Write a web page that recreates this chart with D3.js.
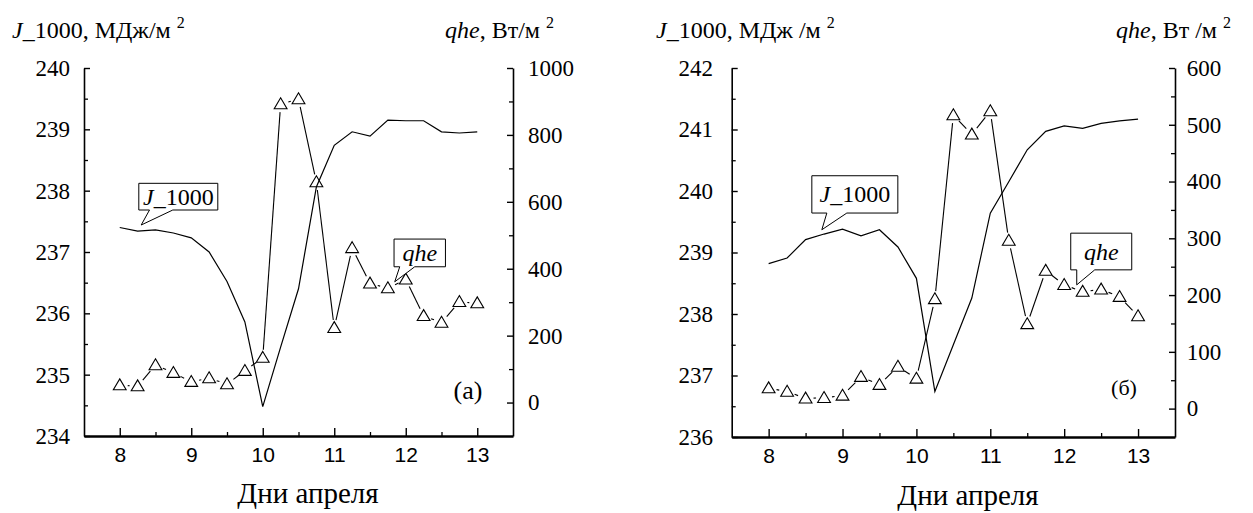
<!DOCTYPE html>
<html><head><meta charset="utf-8">
<script src="https://cdn.jsdelivr.net/npm/d3@7"></script>
<style>body{margin:0;background:#fff}svg{display:block}</style>
</head><body>
<svg id="c" width="1253" height="513"></svg>
<script>
// ---------------- data ----------------
const days = [8, 8.25, 8.5, 8.75, 9, 9.25, 9.5, 9.75, 10, 10.25, 10.5, 10.75, 11, 11.25, 11.5, 11.75, 12, 12.25, 12.5, 12.75, 13];
// panel (а)
const jA = [237.40, 237.34, 237.36, 237.31, 237.23, 237.00, 236.52, 235.86, 234.48, 235.45, 236.40, 238.06, 238.74, 238.96, 238.89, 239.15, 239.14, 239.14, 238.96, 238.94, 238.96];
const qA = [52, 49, 112, 89, 62, 73, 55, 95, 134, 892, 907, 659, 223, 462, 356, 342, 368, 259, 239, 301, 297];
// panel (б)
const jB = [238.82, 238.91, 239.21, 239.30, 239.38, 239.27, 239.37, 239.09, 238.58, 236.74, 237.50, 238.26, 239.64, 240.15, 240.67, 240.97, 241.06, 241.02, 241.10, 241.14, 241.17];
const qB = [36, 30, 18, 19, 23, 56, 42, 74, 53, 193, 517, 483, 524, 296, 149, 243, 218, 206, 210, 197, 163];
// ticks
const xTicks = [8, 9, 10, 11, 12, 13];
const jTicksA = [234, 235, 236, 237, 238, 239, 240];
const qTicksA = [0, 200, 400, 600, 800, 1000];
const jTicksB = [236, 237, 238, 239, 240, 241, 242];
const qTicksB = [0, 100, 200, 300, 400, 500, 600];
const xTitle = "Дни апреля";

// ---------------- layout ----------------
const SERIF = "Liberation Serif";
const SANS = "Liberation Sans";
const svg = d3.select("#c");

const panels = [
  { x0: 84, x1: 513, yb: 436, yt: 68, xDom: [7.5, 13.5], jDom: [234, 240], qDom: [-100, 1000],
    J: jA, Q: qA, jTicks: jTicksA, qTicks: qTicksA, qMinorStep: 100,
    padL: 14, padR: 15,
    jTitle: { x: 12, y: 38, parts: [{t: "J", i: 1}, {t: "_1000, МДж/м "}, {t: "2", sup: 1}] },
    qTitle: { x: 445, y: 38, parts: [{t: "qhe", i: 1}, {t: ", Вт/м "}, {t: "2", sup: 1}] },
    xTitlePos: [308, 503],
    tag: { t: "(а)", x: 468, y: 399, size: 26 },
    cJ: { tip: [8.30, 237.44], l: -2.4, t: -41.7, r: 76.6, b: -15, b1: 8.3, b2: 31.6 },
    cQ: { tip: [11.846, 361], l: -0.7, t: -42.7, r: 50.7, b: -15, b1: 5, b2: 20 } },
  { x0: 731.7, x1: 1175, yb: 437, yt: 68, xDom: [7.5, 13.5], jDom: [236, 242], qDom: [-50, 600],
    J: jB, Q: qB, jTicks: jTicksB, qTicks: qTicksB, qMinorStep: 50,
    padL: 18.7, padR: 11.7,
    jTitle: { x: 656, y: 38, parts: [{t: "J", i: 1}, {t: "_1000, МДж /м "}, {t: "2", sup: 1}] },
    qTitle: { x: 1116, y: 38, parts: [{t: "qhe", i: 1}, {t: ", Вт /м "}, {t: "2", sup: 1}] },
    xTitlePos: [968, 505],
    tag: { t: "(б)", x: 1124, y: 395, size: 22 },
    cJ: { tip: [8.72, 239.37], l: -10, t: -54, r: 76, b: -16.7, b1: 5, b2: 25 },
    cQ: { tip: [12.17, 218], l: -6, t: -51.7, r: 55, b: -15, b1: 0, b2: 18 } }
];

function rich(g, x, y, parts, size, anchor) {
  const t = g.append("text").attr("x", x).attr("y", y)
    .attr("font-family", SERIF).attr("font-size", size)
    .attr("text-anchor", anchor || "start").attr("fill", "#000");
  parts.forEach(p => {
    const s = t.append("tspan").text(p.t);
    if (p.i) s.attr("font-style", "italic");
    if (p.sup) s.attr("font-size", Math.round(size * 0.66)).attr("dy", -size * 0.42);
  });
  return t;
}

function styleSerifAxis(g, anchor, pad, size) {
  g.attr("font-family", SERIF);
  g.selectAll("text").attr("font-family", SERIF).attr("font-size", size)
    .attr("fill", "#000").attr("text-anchor", anchor)
    .attr("x", anchor === "end" ? -pad : pad);
}

panels.forEach(p => {
  const g = svg.append("g");
  const x = d3.scaleLinear().domain(p.xDom).range([p.x0, p.x1]);
  const yJ = d3.scaleLinear().domain(p.jDom).range([p.yb, p.yt]);
  const yQ = d3.scaleLinear().domain(p.qDom).range([p.yb, p.yt]);

  // minor ticks
  const jMinor = d3.range(p.jDom[0] + 0.5, p.jDom[1], 1);
  const qMinor = d3.range(p.qTicks[0] + p.qMinorStep, p.qDom[1], p.qMinorStep).filter(v => !p.qTicks.includes(v));
  const xMinor = d3.range(8.5, 13, 1);

  const minorL = g.append("g").attr("transform", `translate(${p.x0},0)`)
    .call(d3.axisLeft(yJ).tickValues(jMinor).tickSize(-4).tickFormat(""));
  const minorR = g.append("g").attr("transform", `translate(${p.x1},0)`)
    .call(d3.axisRight(yQ).tickValues(qMinor).tickSize(-4).tickFormat(""));
  const minorB = g.append("g").attr("transform", `translate(0,${p.yb})`)
    .call(d3.axisBottom(x).tickValues(xMinor).tickSize(-4).tickFormat(""));
  [minorL, minorR, minorB].forEach(a => { a.select(".domain").remove(); a.selectAll("line").attr("stroke", "#000").attr("stroke-width", 1.3); });

  // major axes
  const axL = g.append("g").attr("transform", `translate(${p.x0},0)`)
    .call(d3.axisLeft(yJ).tickValues(p.jTicks).tickSize(-6).tickSizeOuter(0).tickFormat(d3.format("d")));
  styleSerifAxis(axL, "end", p.padL, 23);
  const axR = g.append("g").attr("transform", `translate(${p.x1},0)`)
    .call(d3.axisRight(yQ).tickValues(p.qTicks).tickSize(-6).tickSizeOuter(0).tickFormat(d3.format("d")));
  styleSerifAxis(axR, "start", p.padR, 23);
  const axB = g.append("g").attr("transform", `translate(0,${p.yb})`)
    .call(d3.axisBottom(x).tickValues(xTicks).tickSize(-8).tickSizeOuter(0).tickPadding(11.5).tickFormat(d3.format("d")));
  axB.attr("font-family", SANS);
  axB.selectAll("text").attr("font-family", SANS).attr("font-size", 21).attr("fill", "#000");
  [axL, axR].forEach(a => { a.select(".domain").attr("stroke-width", 1.6); a.selectAll("line").attr("stroke-width", 1.4); });
  axB.select(".domain").attr("stroke-width", 2.6);
  axB.selectAll("line").attr("stroke-width", 1.4);

  // J_1000 line
  g.append("path").datum(p.J)
    .attr("d", d3.line().x((d, i) => x(days[i])).y(d => yJ(d)))
    .attr("fill", "none").attr("stroke", "#000").attr("stroke-width", 1.2);

  // qhe line with gaps around markers
  const pts = p.Q.map((v, i) => [x(days[i]), yQ(v)]);
  const gap = 8;
  const segs = [];
  for (let i = 0; i < pts.length - 1; i++) {
    const [ax, ay] = pts[i], [bx, by] = pts[i + 1];
    const dx = bx - ax, dy = by - ay, L = Math.hypot(dx, dy);
    if (L > 2 * gap + 1) {
      const ux = dx / L, uy = dy / L;
      segs.push([[ax + ux * gap, ay + uy * gap], [bx - ux * gap, by - uy * gap]]);
    }
  }
  g.selectAll(".seg").data(segs).join("line").attr("class", "seg")
    .attr("x1", d => d[0][0]).attr("y1", d => d[0][1])
    .attr("x2", d => d[1][0]).attr("y2", d => d[1][1])
    .attr("stroke", "#000").attr("stroke-width", 1.1);
  g.selectAll(".tri").data(pts).join("path").attr("class", "tri")
    .attr("transform", d => `translate(${d[0]},${d[1]})`)
    .attr("d", "M0,-6.3L6.4,4.6L-6.4,4.6Z")
    .attr("fill", "none").attr("stroke", "#000").attr("stroke-width", 1.1);

  // callouts
  function callout(c, yS, parts) {
    const tx = x(c.tip[0]), ty = yS(c.tip[1]);
    const L = tx + c.l, T = ty + c.t, R = tx + c.r, B = ty + c.b;
    g.append("path")
      .attr("d", `M${L},${T}H${R}V${B}H${tx + c.b2}L${tx},${ty}L${tx + c.b1},${B}H${L}Z`)
      .attr("fill", "#fff").attr("stroke", "#000").attr("stroke-width", 1);
    rich(g, (L + R) / 2, (T + B) / 2 + 8, parts, 24, "middle");
  }
  callout(p.cJ, yJ, [{t: "J", i: 1}, {t: "_1000"}]);
  callout(p.cQ, yQ, [{t: "qhe", i: 1}]);

  // titles
  rich(g, p.jTitle.x, p.jTitle.y, p.jTitle.parts, 24, "start");
  rich(g, p.qTitle.x, p.qTitle.y, p.qTitle.parts, 24, "start");
  rich(g, p.xTitlePos[0], p.xTitlePos[1], [{t: xTitle}], 29, "middle");
  rich(g, p.tag.x, p.tag.y, [{t: p.tag.t}], p.tag.size, "middle");
});
</script>
</body></html>
